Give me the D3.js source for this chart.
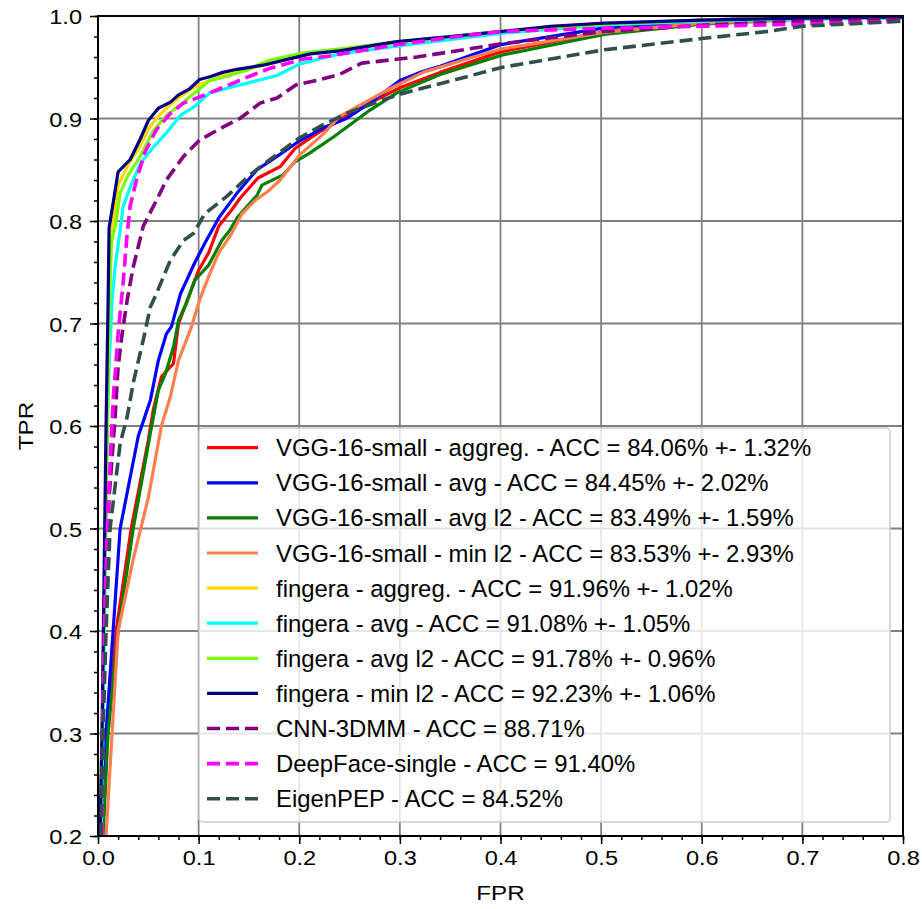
<!DOCTYPE html>
<meta charset="utf-8">
<style>
body { margin: 0; background: #fff; }
svg { font-family: "Liberation Sans", Arial, sans-serif; }
.grid line { stroke: #808080; stroke-width: 1.8px; }
.axis path { display: none; }
.axis line { stroke: #000; stroke-width: 1.5px; }
.curve { fill: none; stroke-width: 3.2px; stroke-linejoin: round; }
</style>
<body>
<script src="https://cdn.jsdelivr.net/npm/d3@7"></script>
<script>

var width = 922,
    height = 909;

var margin = {top: 16, right: 19, bottom: 73, left: 98};
var plotW = width - margin.left - margin.right,
    plotH = height - margin.top - margin.bottom;

// tick values
var xTicks = [0.0, 0.1, 0.2, 0.3, 0.4, 0.5, 0.6, 0.7, 0.8];
var yTicks = [0.2, 0.3, 0.4, 0.5, 0.6, 0.7, 0.8, 0.9, 1.0];

// ROC curves, [fpr, tpr]
var vggAggreg = [[0.005,0.2],[0.009,0.3],[0.018,0.4],[0.033,0.5],[0.05,0.586],[0.055,0.616],[0.063,0.648],[0.075,0.661],[0.08,0.7],[0.09,0.726],[0.1,0.752],[0.11,0.769],[0.12,0.795],[0.133,0.811],[0.141,0.822],[0.159,0.842],[0.181,0.853],[0.196,0.871],[0.22,0.887],[0.23,0.892],[0.247,0.903],[0.27,0.915],[0.3,0.93],[0.34,0.945],[0.4,0.965],[0.5,0.984],[0.6,0.994],[0.7,0.998],[0.8,1.0]];
var vggAvg = [[0.004,0.2],[0.008,0.3],[0.015,0.4],[0.022,0.5],[0.04,0.59],[0.052,0.625],[0.06,0.664],[0.068,0.69],[0.073,0.697],[0.082,0.729],[0.096,0.759],[0.106,0.778],[0.12,0.803],[0.138,0.827],[0.158,0.85],[0.178,0.863],[0.2,0.878],[0.224,0.891],[0.247,0.9],[0.27,0.915],[0.3,0.937],[0.32,0.945],[0.34,0.951],[0.4,0.972],[0.5,0.988],[0.6,0.996],[0.7,0.999],[0.8,1.0]];
var vggAvgL2 = [[0.005,0.2],[0.01,0.3],[0.02,0.4],[0.035,0.5],[0.052,0.593],[0.06,0.635],[0.067,0.651],[0.075,0.677],[0.08,0.703],[0.088,0.72],[0.096,0.742],[0.11,0.757],[0.123,0.781],[0.131,0.791],[0.139,0.804],[0.158,0.825],[0.163,0.835],[0.184,0.845],[0.196,0.858],[0.21,0.866],[0.234,0.882],[0.27,0.908],[0.297,0.925],[0.34,0.943],[0.402,0.962],[0.503,0.982],[0.6,0.992],[0.7,0.997],[0.8,1.0]];
var vggMinL2 = [[0.008,0.2],[0.014,0.3],[0.02,0.4],[0.035,0.47],[0.05,0.53],[0.063,0.6],[0.072,0.629],[0.08,0.664],[0.093,0.697],[0.101,0.723],[0.11,0.746],[0.12,0.769],[0.133,0.788],[0.143,0.807],[0.156,0.82],[0.169,0.829],[0.181,0.84],[0.2,0.864],[0.224,0.885],[0.24,0.902],[0.264,0.915],[0.29,0.929],[0.323,0.945],[0.373,0.96],[0.402,0.968],[0.503,0.984],[0.6,0.993],[0.7,0.997],[0.8,0.999]];
var fingAggreg = [[0.002,0.2],[0.005,0.35],[0.008,0.55],[0.011,0.72],[0.014,0.79],[0.02,0.835],[0.03,0.855],[0.042,0.873],[0.05,0.89],[0.06,0.902],[0.07,0.912],[0.08,0.92],[0.09,0.927],[0.1,0.933],[0.12,0.94],[0.14,0.946],[0.16,0.951],[0.18,0.956],[0.2,0.962],[0.25,0.968],[0.3,0.974],[0.35,0.979],[0.4,0.984],[0.45,0.988],[0.5,0.992],[0.6,0.996],[0.7,0.998],[0.8,0.999]];
var fingAvg = [[0.003,0.2],[0.005,0.3],[0.007,0.45],[0.009,0.593],[0.011,0.658],[0.014,0.723],[0.017,0.755],[0.022,0.791],[0.025,0.814],[0.032,0.833],[0.042,0.856],[0.055,0.872],[0.068,0.886],[0.082,0.903],[0.095,0.911],[0.111,0.925],[0.134,0.931],[0.154,0.936],[0.178,0.942],[0.2,0.953],[0.224,0.959],[0.24,0.963],[0.3,0.971],[0.35,0.977],[0.4,0.983],[0.5,0.991],[0.6,0.995],[0.7,0.997],[0.8,0.998]];
var fingAvgL2 = [[0.002,0.2],[0.005,0.35],[0.008,0.52],[0.011,0.7],[0.013,0.779],[0.017,0.794],[0.022,0.827],[0.029,0.843],[0.042,0.863],[0.055,0.888],[0.068,0.903],[0.085,0.916],[0.101,0.929],[0.111,0.937],[0.124,0.94],[0.148,0.947],[0.158,0.952],[0.171,0.957],[0.204,0.964],[0.25,0.969],[0.3,0.975],[0.35,0.98],[0.4,0.985],[0.5,0.992],[0.6,0.996],[0.7,0.998],[0.8,0.999]];
var fingMinL2 = [[0.002,0.2],[0.004,0.3],[0.006,0.45],[0.008,0.6],[0.01,0.72],[0.011,0.793],[0.02,0.848],[0.032,0.86],[0.042,0.88],[0.05,0.898],[0.06,0.91],[0.072,0.916],[0.08,0.923],[0.091,0.929],[0.101,0.938],[0.112,0.941],[0.124,0.945],[0.138,0.948],[0.164,0.952],[0.181,0.956],[0.211,0.963],[0.24,0.966],[0.297,0.975],[0.35,0.98],[0.402,0.985],[0.45,0.99],[0.503,0.993],[0.6,0.996],[0.7,0.998],[0.8,0.999]];
var cnn3dmm = [[0.003,0.2],[0.005,0.316],[0.007,0.43],[0.011,0.53],[0.017,0.609],[0.02,0.658],[0.024,0.69],[0.029,0.723],[0.035,0.755],[0.045,0.795],[0.058,0.82],[0.068,0.84],[0.085,0.863],[0.101,0.879],[0.125,0.892],[0.141,0.9],[0.161,0.915],[0.178,0.92],[0.197,0.933],[0.217,0.937],[0.24,0.943],[0.262,0.954],[0.317,0.96],[0.402,0.973],[0.503,0.985],[0.6,0.991],[0.7,0.995],[0.8,0.997]];
var deepFace = [[0.004,0.2],[0.005,0.333],[0.007,0.43],[0.01,0.52],[0.015,0.625],[0.02,0.69],[0.025,0.74],[0.029,0.788],[0.032,0.815],[0.039,0.843],[0.047,0.868],[0.058,0.889],[0.072,0.905],[0.085,0.915],[0.101,0.921],[0.121,0.929],[0.145,0.939],[0.171,0.949],[0.204,0.958],[0.23,0.961],[0.297,0.972],[0.35,0.979],[0.402,0.985],[0.503,0.988],[0.6,0.99],[0.7,0.992],[0.8,0.995]];
var eigenPep = [[0.003,0.2],[0.005,0.3],[0.008,0.4],[0.012,0.5],[0.022,0.583],[0.029,0.609],[0.035,0.642],[0.045,0.684],[0.052,0.716],[0.058,0.729],[0.072,0.762],[0.085,0.781],[0.095,0.788],[0.106,0.807],[0.128,0.824],[0.151,0.845],[0.171,0.86],[0.2,0.881],[0.224,0.894],[0.247,0.905],[0.277,0.916],[0.301,0.924],[0.34,0.934],[0.402,0.95],[0.503,0.967],[0.6,0.978],[0.666,0.985],[0.7,0.99],[0.8,0.995]];

var labels = [
  "VGG-16-small - aggreg. - ACC = 84.06% +- 1.32%",
  "VGG-16-small - avg - ACC = 84.45% +- 2.02%",
  "VGG-16-small - avg l2 - ACC = 83.49% +- 1.59%",
  "VGG-16-small - min l2 - ACC = 83.53% +- 2.93%",
  "fingera - aggreg. - ACC = 91.96% +- 1.02%",
  "fingera - avg - ACC = 91.08% +- 1.05%",
  "fingera - avg l2 - ACC = 91.78% +- 0.96%",
  "fingera - min l2 - ACC = 92.23% +- 1.06%",
  "CNN-3DMM - ACC = 88.71%",
  "DeepFace-single - ACC = 91.40%",
  "EigenPEP - ACC = 84.52%"
];
var colors = ["#ff0000", "#0000ff", "#008000", "#ff7f50", "#ffd700", "#00ffff",
              "#7cfc00", "#000080", "#800080", "#ff00ff", "#2f4f4f"];
var dashed = [false, false, false, false, false, false, false, false, true, true, true];
var curves = [vggAggreg, vggAvg, vggAvgL2, vggMinL2, fingAggreg, fingAvg,
              fingAvgL2, fingMinL2, cnn3dmm, deepFace, eigenPep];

var x = d3.scaleLinear().domain([0, 0.8]).range([0, plotW]);
var y = d3.scaleLinear().domain([0.2, 1.0]).range([plotH, 0]);

var svg = d3.select("body").append("svg")
    .attr("width", width)
    .attr("height", height);

var g = svg.append("g")
    .attr("transform", "translate(" + margin.left + "," + margin.top + ")");

svg.append("defs").append("clipPath")
    .attr("id", "clip")
  .append("rect")
    .attr("width", plotW)
    .attr("height", plotH);

// grid
g.append("g").attr("class", "grid")
  .selectAll("line").data(xTicks).enter().append("line")
    .attr("x1", x).attr("x2", x)
    .attr("y1", 0).attr("y2", plotH);
g.append("g").attr("class", "grid")
  .selectAll("line").data(yTicks).enter().append("line")
    .attr("x1", 0).attr("x2", plotW)
    .attr("y1", y).attr("y2", y);

// curves
var line = d3.line()
    .x(function(d) { return x(d[0]); })
    .y(function(d) { return y(d[1]); });

g.append("g").attr("clip-path", "url(#clip)")
  .selectAll("path").data(curves).enter().append("path")
    .attr("class", "curve")
    .attr("d", line)
    .style("stroke", function(d, i) { return colors[i]; })
    .style("stroke-width", function(d, i) { return dashed[i] ? 3.6 : null; })
    .style("stroke-dasharray", function(d, i) { return dashed[i] ? "13,6" : null; });

// axes
var minorX = d3.range(0, 0.8001, 0.02),
    minorY = d3.range(0.2, 1.0001, 0.02);

g.append("g").attr("class", "axis")
    .attr("transform", "translate(0," + plotH + ")")
    .call(d3.axisBottom(x).tickValues(minorX).tickSize(4).tickFormat(""));
g.append("g").attr("class", "axis")
    .call(d3.axisLeft(y).tickValues(minorY).tickSize(4).tickFormat(""));

var xAxis = g.append("g").attr("class", "axis")
    .attr("transform", "translate(0," + plotH + ")")
    .call(d3.axisBottom(x).tickValues(xTicks).tickSize(8).tickFormat(d3.format(".1f")));
xAxis.selectAll("text")
    .attr("y", 0)
    .attr("dy", null)
    .attr("transform", "translate(0,29) scale(1.15,1)")
    .style("font-size", "20.5px")
    .style("fill", "#000");

var yAxis = g.append("g").attr("class", "axis")
    .call(d3.axisLeft(y).tickValues(yTicks).tickSize(8).tickFormat(d3.format(".1f")));
yAxis.selectAll("text")
    .attr("x", 0)
    .attr("dy", null)
    .attr("transform", "translate(-16,7.5) scale(1.15,1)")
    .style("font-size", "20.5px")
    .style("fill", "#000");

// frame
g.append("rect")
    .attr("width", plotW)
    .attr("height", plotH)
    .style("fill", "none")
    .style("stroke", "#000")
    .style("stroke-width", 2);

// axis titles
svg.append("text")
    .attr("transform", "translate(" + (margin.left + plotW / 2) + ",900) scale(1.15,1)")
    .attr("text-anchor", "middle")
    .style("font-size", "21px")
    .text("FPR");
svg.append("text")
    .attr("transform", "translate(33," + (margin.top + plotH / 2) + ") rotate(-90) scale(1.15,1)")
    .attr("text-anchor", "middle")
    .style("font-size", "21px")
    .text("TPR");

// legend
var legend = svg.append("g").attr("transform", "translate(199,428)");
legend.append("rect")
    .attr("width", 691)
    .attr("height", 394)
    .attr("rx", 4)
    .style("fill", "#fff")
    .style("fill-opacity", 0.8)
    .style("stroke", "#cccccc")
    .style("stroke-width", 1.5);

var item = legend.selectAll(".item").data(labels).enter().append("g")
    .attr("transform", function(d, i) { return "translate(0," + (19.7 + i * 35.1) + ")"; });
item.append("line")
    .attr("x1", 8).attr("x2", 59)
    .style("stroke", function(d, i) { return colors[i]; })
    .style("stroke-width", function(d, i) { return dashed[i] ? 3.6 : 3.2; })
    .style("stroke-dasharray", function(d, i) { return dashed[i] ? "13,6" : null; });
item.append("text")
    .attr("x", 77)
    .attr("y", 8.5)
    .style("font-size", "23.9px")
    .text(function(d) { return d; });

</script>
